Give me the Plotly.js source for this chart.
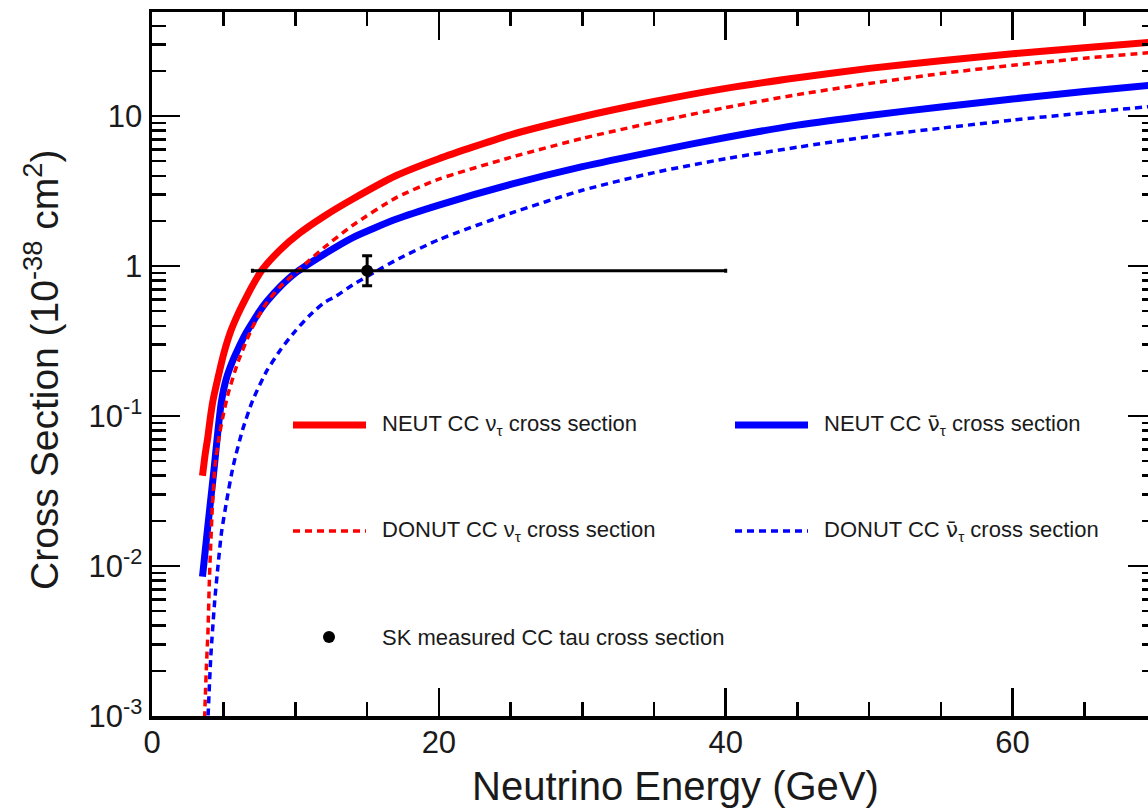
<!DOCTYPE html>
<html>
<head>
<meta charset="utf-8">
<script src="https://cdn.plot.ly/plotly-3.0.1.min.js"></script>
<style>
html,body{margin:0;padding:0;overflow:hidden;background:#fff;}
#chart{width:1160px;height:811px;}
</style>
</head>
<body>
<div id="chart"></div>
<script>
// ---- Data ----
const neutNuE   = [3.52, 3.7, 3.89, 4.05, 4.26, 4.6, 5, 5.5, 6, 6.5, 7, 7.7, 9, 10.3, 12, 14, 17, 20, 25, 30, 35, 40, 45, 50, 55, 60, 65, 70];
const neutNuXS  = [0.040, 0.055, 0.072, 0.095, 0.128, 0.18, 0.26, 0.37, 0.48, 0.60, 0.74, 0.95, 1.3, 1.66, 2.15, 2.8, 4.0, 5.2, 7.5, 9.9, 12.5, 15.3, 18.0, 20.8, 23.4, 26.0, 28.6, 31.3];

const neutNubarE  = [3.52, 3.84, 4.09, 4.34, 4.58, 4.84, 5.2, 5.6, 6, 6.5, 7, 7.5, 8, 9, 10, 12, 14, 17, 20, 25, 30, 35, 40, 45, 50, 55, 60, 65, 70];
const neutNubarXS = [0.0085, 0.0166, 0.0275, 0.0457, 0.077, 0.125, 0.18, 0.23, 0.28, 0.35, 0.42, 0.50, 0.58, 0.74, 0.90, 1.2, 1.55, 2.05, 2.55, 3.5, 4.6, 5.8, 7.2, 8.7, 10.1, 11.5, 13.0, 14.6, 16.2];

const donutNuE  = [3.65, 3.7, 3.8, 3.9, 4.0, 4.2, 4.4, 4.7, 5.0, 5.3, 6, 7, 8, 9, 10, 11, 12, 14, 17, 20, 25, 30, 35, 40, 45, 50, 55, 60, 65, 70];
const donutNuXS = [0.0008, 0.0012, 0.0022, 0.0036, 0.008, 0.024, 0.047, 0.075, 0.105, 0.14, 0.23, 0.39, 0.57, 0.74, 0.90, 1.10, 1.33, 1.87, 2.85, 3.8, 5.3, 7.1, 9.1, 11.4, 13.9, 16.5, 19.2, 21.8, 24.3, 26.7];

const donutNubarE  = [3.85, 3.91, 4.1, 4.375, 4.6, 4.84, 5.2, 5.65, 6.3, 7.03, 8, 9, 10, 11, 12, 12.83, 14, 15.6, 17.2, 20, 25, 30, 35, 40, 45, 50, 55, 60, 65, 70];
const donutNubarXS = [0.0007, 0.001, 0.0025, 0.0059, 0.01, 0.0166, 0.027, 0.046, 0.08, 0.128, 0.20, 0.28, 0.37, 0.47, 0.57, 0.63, 0.75, 0.92, 1.12, 1.5, 2.25, 3.2, 4.2, 5.2, 6.2, 7.3, 8.3, 9.4, 10.5, 11.7];

const skE = [15];
const skXS = [0.93];
const skErrEPlus = [25];
const skErrEMinus = [8];
const skErrXSPlus = [0.24];
const skErrXSMinus = [0.19];

const yTickVals = [0.001, 0.01, 0.1, 1, 10];
const yTickText = ['10<sup>-3</sup>', '10<sup>-2</sup>', '10<sup>-1</sup>', '1', '10'];
const yMinorVals = [];
for (const d of [0.001, 0.01, 0.1, 1, 10]) { for (let k = 2; k <= 9; k++) yMinorVals.push(+(d * k).toPrecision(3)); }

const xTitle = 'Neutrino Energy (GeV)';
const yTitle = 'Cross Section (10<sup>-38</sup> cm<sup>2</sup>)';
const NUBAR = '<span style="font-family:DejaVu Sans">ν̄</span>';
const legendLabels = [
  'NEUT CC ν<sub>τ</sub> cross section',
  'NEUT CC ' + NUBAR + '<sub>τ</sub> cross section',
  'DONUT CC ν<sub>τ</sub> cross section',
  'DONUT CC ' + NUBAR + '<sub>τ</sub> cross section',
  'SK measured CC tau cross section'
];

// ---- Styling ----
const RED = '#ff0000', BLUE = '#0000ff';
const FONT = 'Liberation Sans, Arial, Helvetica, sans-serif';
const TXT = '#1a1a1a';
const dashPat = '7px,5px';
const curve = (color, width, dash) => ({color: color, width: width, dash: dash || 'solid', shape: 'spline', smoothing: 0.6});

const traces = [
  {x: neutNuE, y: neutNuXS, mode: 'lines', line: curve(RED, 7), name: legendLabels[0], showlegend: false},
  {x: neutNubarE, y: neutNubarXS, mode: 'lines', line: curve(BLUE, 7), name: legendLabels[1], showlegend: false},
  {x: donutNuE, y: donutNuXS, mode: 'lines', line: curve(RED, 3.5, dashPat), name: legendLabels[2], showlegend: false},
  {x: donutNubarE, y: donutNubarXS, mode: 'lines', line: curve(BLUE, 3.5, dashPat), name: legendLabels[3], showlegend: false},
  {x: skE, y: skXS, mode: 'markers', marker: {color: 'black', size: 12}, name: legendLabels[4], showlegend: false,
   error_x: {type: 'data', symmetric: false, array: skErrEPlus, arrayminus: skErrEMinus, color: 'black', thickness: 3, width: 2},
   error_y: {type: 'data', symmetric: false, array: skErrXSPlus, arrayminus: skErrXSMinus, color: 'black', thickness: 3, width: 5}}
];

// legend / title geometry (paper coordinates from pixel positions)
const L = 152, PW = 1004, PH = 704;
const px = v => (v - L) / PW;
const py = v => (716 - v) / PH;
const rows = [425, 531, 637];

const shapes = [
  {type: 'line', xref: 'paper', yref: 'paper', x0: px(293), x1: px(366), y0: py(rows[0]), y1: py(rows[0]), line: {color: RED, width: 7}},
  {type: 'line', xref: 'paper', yref: 'paper', x0: px(735), x1: px(808), y0: py(rows[0]), y1: py(rows[0]), line: {color: BLUE, width: 7}},
  {type: 'line', xref: 'paper', yref: 'paper', x0: px(293), x1: px(366), y0: py(rows[1]), y1: py(rows[1]), line: {color: RED, width: 3.5, dash: dashPat}},
  {type: 'line', xref: 'paper', yref: 'paper', x0: px(735), x1: px(808), y0: py(rows[1]), y1: py(rows[1]), line: {color: BLUE, width: 3.5, dash: dashPat}},
  {type: 'circle', xref: 'paper', yref: 'paper', xsizemode: 'pixel', ysizemode: 'pixel', xanchor: px(329), yanchor: py(rows[2]),
   x0: -6, x1: 6, y0: -6, y1: 6, fillcolor: 'black', line: {color: 'black', width: 0}}
];

const legFont = {family: FONT, size: 22, color: TXT};
const annotations = [
  {xref: 'paper', yref: 'paper', x: px(380), y: py(rows[0]), text: legendLabels[0]},
  {xref: 'paper', yref: 'paper', x: px(822), y: py(rows[0]), text: legendLabels[1]},
  {xref: 'paper', yref: 'paper', x: px(380), y: py(rows[1]), text: legendLabels[2]},
  {xref: 'paper', yref: 'paper', x: px(822), y: py(rows[1]), text: legendLabels[3]},
  {xref: 'paper', yref: 'paper', x: px(380), y: py(rows[2]), text: legendLabels[4]}
].map(a => Object.assign(a, {xanchor: 'left', yanchor: 'middle', showarrow: false, font: legFont}));

// axis titles placed as annotations to match the reference position
annotations.push({xref: 'paper', yref: 'paper', x: px(675), y: py(786), text: xTitle, showarrow: false,
  xanchor: 'center', yanchor: 'middle', font: {family: FONT, size: 40, color: TXT}});
annotations.push({xref: 'paper', yref: 'paper', x: px(41), y: py(370), text: yTitle, showarrow: false, textangle: -90,
  xanchor: 'center', yanchor: 'middle', font: {family: FONT, size: 39, color: TXT}});

const axisCommon = {
  showline: true, linecolor: 'black', linewidth: 3.5, mirror: 'ticks',
  ticks: 'inside', ticklen: 28, tickwidth: 2.5, tickcolor: 'black',
  showgrid: false, zeroline: false,
  tickfont: {family: FONT, size: 31, color: TXT}
};

const layout = {
  width: 1160, height: 811,
  margin: {l: 152, r: 4, t: 12, b: 95},
  paper_bgcolor: 'white', plot_bgcolor: 'white',
  font: {family: FONT, color: TXT},
  showlegend: false,
  xaxis: Object.assign({}, axisCommon, {
    range: [0, 70], dtick: 20, tick0: 0, ticklabelstandoff: -4,
    minor: {dtick: 5, tick0: 0, ticks: 'inside', ticklen: 14, tickwidth: 2.5, tickcolor: 'black'}
  }),
  yaxis: Object.assign({}, axisCommon, {
    type: 'log', range: [-3, 1.694],
    tickmode: 'array', tickvals: yTickVals, ticktext: yTickText,
    minor: {tickmode: 'array', tickvals: yMinorVals, ticks: 'inside', ticklen: 14, tickwidth: 2.5, tickcolor: 'black'}
  }),
  shapes: shapes,
  annotations: annotations
};

Plotly.newPlot('chart', traces, layout, {displayModeBar: false, staticPlot: true});
</script>
</body>
</html>
